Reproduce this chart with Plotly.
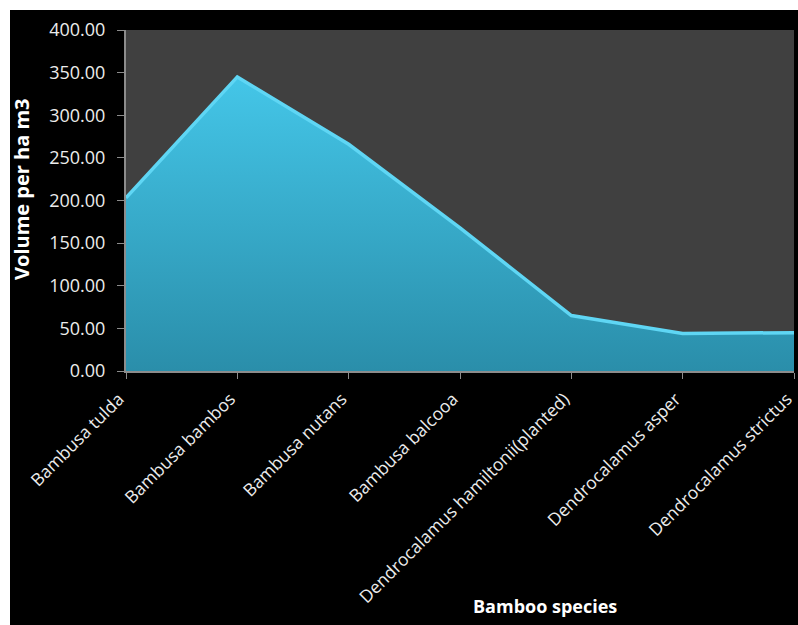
import plotly.graph_objects as go

species = ["Bambusa tulda", "Bambusa bambos", "Bambusa nutans", "Bambusa balcooa",
           "Dendrocalamus hamiltonii(planted)", "Dendrocalamus asper", "Dendrocalamus strictus"]
volume = [203, 345, 266, 168, 65, 44, 45]
yticks = [0, 50, 100, 150, 200, 250, 300, 350, 400]

W, H = 798, 625
L, R, T, B = 126, 4, 30, 254
pw, ph = W - L - R, H - T - B

def px(x):
    return (x - L) / pw

def py(y):
    return (H - B - y) / ph

fig = go.Figure()
fig.add_trace(go.Scatter(
    x=list(range(len(species))), y=volume, mode="lines",
    fill="tozeroy",
    fillgradient=dict(type="vertical", colorscale=[[0, "#2a8eaa"], [1, "#44c6e8"]]),
    line=dict(color="#5fd6f4", width=3.5),
    hoverinfo="skip", showlegend=False,
))

font = "Open Sans, DejaVu Sans, sans-serif"
fig.update_layout(
    width=W, height=H,
    margin=dict(l=L, r=R, t=T, b=B),
    paper_bgcolor="black", plot_bgcolor="#404040",
    xaxis=dict(
        range=[0, len(species) - 1], tickmode="array",
        tickvals=list(range(len(species))), ticktext=species,
        tickangle=-45, showgrid=False, zeroline=False, automargin=False,
        showline=True, linecolor="#8c8c8c", linewidth=2,
        ticks="outside", ticklen=6, tickcolor="#8c8c8c",
        ticklabeloverflow="allow", ticklabelshift=-7, ticklabelstandoff=3,
        tickfont=dict(family=font, size=17.5, color="#ececec"),
    ),
    yaxis=dict(
        range=[0, 400], tickmode="array", tickvals=yticks,
        ticktext=[f"{v:.2f}" for v in yticks],
        showgrid=False, zeroline=False, automargin=False,
        showline=True, linecolor="#8c8c8c", linewidth=2,
        ticks="outside", ticklen=7, tickcolor="#8c8c8c",
        ticklabelstandoff=8,
        tickfont=dict(family=font, size=18, color="#ececec"),
    ),
    shapes=[
        dict(type="rect", xref="paper", yref="paper", x0=px(-50), x1=px(10), y0=py(700), y1=py(-50),
             fillcolor="white", line=dict(width=0), layer="above"),
        dict(type="rect", xref="paper", yref="paper", x0=px(-50), x1=px(850), y0=py(10), y1=py(-50),
             fillcolor="white", line=dict(width=0), layer="above"),
    ],
    annotations=[
        dict(text="<b>Volume per ha m3</b>", xref="paper", yref="paper", x=px(21), y=py(189),
             textangle=-90, showarrow=False, font=dict(family=font, size=20, color="white"),
             xanchor="center", yanchor="middle"),
        dict(text="<b>Bamboo species</b>", xref="paper", yref="paper", x=px(545), y=py(606),
             showarrow=False, font=dict(family=font, size=18, color="white"),
             xanchor="center", yanchor="middle"),
    ],
)

fig.write_html("out.html")
